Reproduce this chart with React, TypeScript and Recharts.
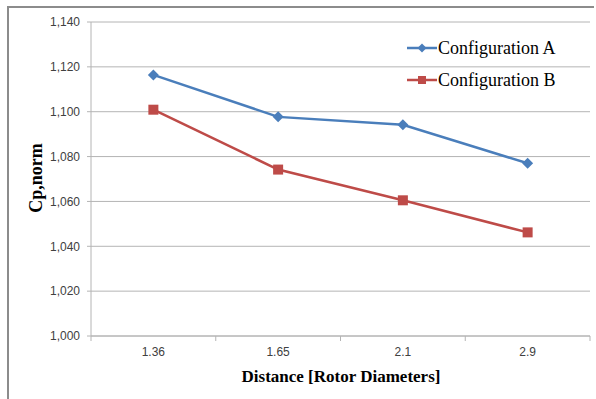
import { LineChart, Line, XAxis, YAxis, CartesianGrid } from 'recharts'

const categories = ['1.36', '1.65', '2.1', '2.9']
const configA = [1.1164, 1.0977, 1.0942, 1.077]
const configB = [1.1009, 1.0742, 1.0605, 1.0462]
const yTicks = [1.0, 1.02, 1.04, 1.06, 1.08, 1.1, 1.12, 1.14]
const seriesNames = ['Configuration A', 'Configuration B']

const BLUE = '#4a7ebb'
const RED = '#be4b48'
const GRID = '#b4b4b4'
const SERIF = '"Liberation Serif", "Times New Roman", serif'
const SANS = '"Liberation Sans", Arial, sans-serif'

// each category sits in the middle of its band: 0.5, 1.5, ...
const data = categories.map((c, i) => ({ pos: i + 0.5, cat: c, a: configA[i], b: configB[i] }))
const xTicks = [0, 0.5, 1, 1.5, 2, 2.5, 3, 3.5, 4]

const Diamond = (props: any) => {
  const { cx, cy } = props
  if (cx == null || cy == null) return null
  const r = 5.5
  return (
    <polygon
      points={`${cx},${cy - r} ${cx + r},${cy} ${cx},${cy + r} ${cx - r},${cy}`}
      fill={BLUE}
    />
  )
}

const Square = (props: any) => {
  const { cx, cy } = props
  if (cx == null || cy == null) return null
  const s = 10
  return <rect x={cx - s / 2} y={cy - s / 2} width={s} height={s} fill={RED} />
}

// integer positions get a tick mark (band edges), half positions get the label
const XTick = (props: any) => {
  const { x, y, payload } = props
  const v = payload.value
  if (Number.isInteger(v)) {
    return <line x1={x} x2={x} y1={y - 8} y2={y - 3} stroke={GRID} />
  }
  return (
    <text x={x} y={y + 12} textAnchor="middle" fontSize={12} fontFamily={SANS} fill="#404040">
      {categories[Math.floor(v)]}
    </text>
  )
}

const ChartLegend = () => {
  const rows = [
    { name: seriesNames[0], color: BLUE, shape: 'diamond' },
    { name: seriesNames[1], color: RED, shape: 'square' },
  ]
  return (
    <svg width={190} height={70} style={{ position: 'absolute', left: 407, top: 32 }}>
      {rows.map((r, i) => {
        const cy = 16 + i * 32
        return (
          <g key={r.name}>
            <line x1={0} x2={30} y1={cy} y2={cy} stroke={r.color} strokeWidth={2.5} />
            {r.shape === 'diamond' ? (
              <polygon points={`15,${cy - 4.5} 19.5,${cy} 15,${cy + 4.5} 10.5,${cy}`} fill={r.color} />
            ) : (
              <rect x={11} y={cy - 4} width={8} height={8} fill={r.color} />
            )}
            <text x={31} y={cy} dominantBaseline="central" fontFamily={SERIF} fontSize={18} fill="#000">
              {r.name}
            </text>
          </g>
        )
      })}
    </svg>
  )
}

export default function App() {
  return (
    <div style={{ position: 'absolute', left: 0, top: 0, width: 596, height: 399, background: '#fff', overflow: 'hidden' }}>
      <div
        style={{
          position: 'absolute',
          left: 7,
          top: 6,
          width: 585,
          height: 400,
          borderLeft: '2px solid #8c8c8c',
          borderTop: '2px solid #8c8c8c',
        }}
      />
      <LineChart
        width={596}
        height={399}
        data={data}
        margin={{ top: 22, right: 6, bottom: 33, left: 0 }}
        style={{ position: 'absolute', left: 0, top: 0 }}
      >
        <CartesianGrid vertical={false} stroke={GRID} />
        <XAxis
          type="number"
          dataKey="pos"
          domain={[0, 4]}
          ticks={xTicks}
          interval={0}
          tickLine={false}
          axisLine={{ stroke: GRID }}
          tick={<XTick />}
          height={30}
          label={{
            content: () => (
              <text x={341} y={382} textAnchor="middle" fontFamily={SERIF} fontWeight="bold" fontSize={17} fill="#000">
                Distance [Rotor Diameters]
              </text>
            ),
          }}
        />
        <YAxis
          type="number"
          domain={[1.0, 1.14]}
          ticks={yTicks}
          interval={0}
          width={91}
          axisLine={{ stroke: GRID }}
          tickLine={{ stroke: GRID }}
          tickSize={4}
          tickMargin={7}
          tick={{ fontSize: 12, fontFamily: SANS, fill: '#404040' }}
          tickFormatter={(v: number) => v.toFixed(3).replace('.', ',')}
          label={{
            content: () => (
              <text
                x={36}
                y={178}
                transform="rotate(-90 36 178)"
                textAnchor="middle"
                dominantBaseline="central"
                fontFamily={SERIF}
                fontWeight="bold"
                fontSize={18}
                fill="#000"
              >
                Cp,norm
              </text>
            ),
          }}
        />
        <Line
          dataKey="a"
          name={seriesNames[0]}
          stroke={BLUE}
          strokeWidth={2.5}
          dot={<Diamond />}
          activeDot={false}
          isAnimationActive={false}
        />
        <Line
          dataKey="b"
          name={seriesNames[1]}
          stroke={RED}
          strokeWidth={2.5}
          dot={<Square />}
          activeDot={false}
          isAnimationActive={false}
        />
      </LineChart>
      <ChartLegend />
    </div>
  )
}
